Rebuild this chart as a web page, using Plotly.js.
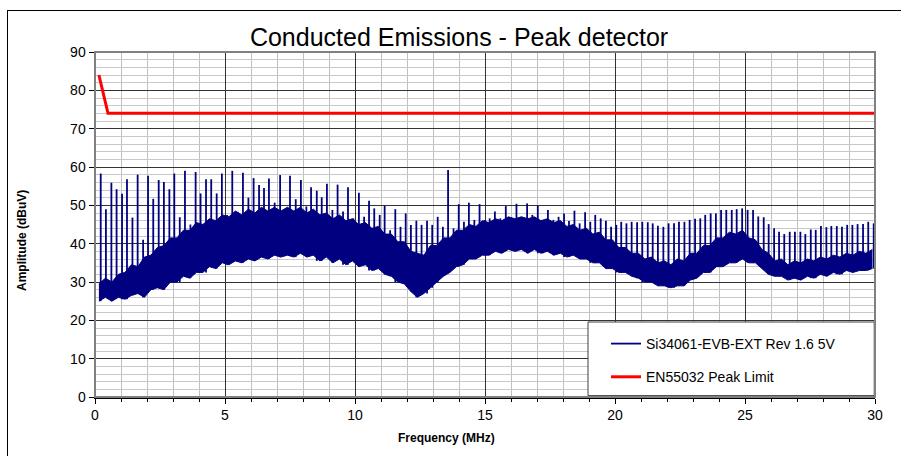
<!DOCTYPE html>
<html>
<head>
<meta charset="utf-8">
<script src="https://cdn.plot.ly/plotly-3.0.1.min.js"></script>
<style>
  html, body { margin: 0; padding: 0; background: #fff; }
  #wrap { position: relative; width: 901px; height: 456px; overflow: hidden; }
  #chart { position: absolute; left: 0; top: 0; width: 901px; height: 456px; }
  #frame { position: absolute; left: 7px; top: 10px; width: 900px; height: 460px;
           border-left: 1px solid #000; border-top: 1px solid #000; pointer-events: none; }
</style>
</head>
<body>
<div id="wrap"><div id="chart"></div><div id="frame"></div></div>
<script>
// ---- Data ----
// Limit line (EN55032 peak limit)
const limitFreq = [0.15, 0.5, 30];
const limitAmp  = [84, 74, 74];

// Dense noise band of the measured spectrum: frequency, bottom and top of band
const bandFreq = [
  0.15,0.4,0.65,0.9,1.15,1.4,1.65,1.9,2.15,2.4,
  2.65,2.9,3.15,3.4,3.65,3.9,4.15,4.4,4.65,4.9,
  5.15,5.4,5.65,5.9,6.15,6.4,6.65,6.9,7.15,7.4,
  7.65,7.9,8.15,8.4,8.65,8.9,9.15,9.4,9.65,9.9,
  10.15,10.4,10.65,10.9,11.15,11.4,11.65,11.9,12.15,12.4,
  12.65,12.9,13.15,13.4,13.65,13.9,14.15,14.4,14.65,14.9,
  15.15,15.4,15.65,15.9,16.15,16.4,16.65,16.9,17.15,17.4,
  17.65,17.9,18.15,18.4,18.65,18.9,19.15,19.4,19.65,19.9,
  20.15,20.4,20.65,20.9,21.15,21.4,21.65,21.9,22.15,22.4,
  22.65,22.9,23.15,23.4,23.65,23.9,24.15,24.4,24.65,24.9,
  25.15,25.4,25.65,25.9,26.15,26.4,26.65,26.9,27.15,27.4,
  27.65,27.9,28.15,28.4,28.65,28.9,29.15,29.4,29.65,29.9
];
const bandHigh = [
  29.5,31,30,32,32.5,34.5,34,36.5,37,39,
  39.5,41.5,41.5,43.5,43.5,45.5,45,46.5,46,47.5,
  47,48.5,47.5,49,48,49.5,48.5,49.5,48.5,49.5,
  48.5,49.5,48,49,47.5,48,46.5,47.5,46,46.5,
  45,45.5,44,44.5,42.5,42.5,40.5,40.5,38,37.5,
  37,39.5,39.5,41.5,41.5,43.5,43.5,45,44.5,46,
  45.5,46.5,46,47,46.5,47,46.5,47,46,46.5,
  45.5,46,44.5,45,43.5,44,42.5,43,41,41,
  39,39,37.5,37.5,36,36.5,35,35.5,34.5,36,
  35.5,37.5,37.5,39.5,39.5,41.5,41.5,43,42.5,43.5,
  41.5,41,38.5,37.5,35.5,36,34.5,35.5,35,36,
  35.5,36.5,36,37,36.5,37.5,37,38,37.5,38.5
];
const bandLow = [
  25,26,25,26,25.5,26.5,27,26,28,28.5,
  28,30,30,31.5,31,32.5,32.5,34,33.5,35,
  34.5,35.5,35,36,35.5,36.5,36,37,36.5,37,
  36.5,37.5,36.5,37,35.5,36.5,35,36,34.5,35.5,
  34,34.5,33,33.5,32,31.5,30,29.5,27.5,26,
  27,28.5,30,31.5,32.5,34,34.5,36,36,37,
  37,38,37.5,38.5,38,38.5,37.5,38.5,37.5,38,
  37,37.5,36.5,37,36,36,35,35,33.5,33.5,
  32.5,32.5,31.5,31,30,30,29,29,28.5,29,
  29,30.5,31,32.5,32.5,34,34,35,35,36,
  35,35,33.5,32,31.5,31.5,30.5,31,30.5,31.5,
  31,32,31.5,32.5,32,33,32.5,33,33,33.5
];

// Harmonic peaks (spikes) of the measured spectrum
const spikeFreq = [
  0.22,0.42,0.63,0.83,1.04,1.23,1.44,1.64,1.85,2.04,2.24,2.45,2.65,2.86,3.05,3.26,3.46,3.67,3.87,4.06,4.27,4.47,4.68,4.88,
  5.08,5.28,5.49,5.69,5.90,6.10,6.31,6.50,6.69,6.91,7.12,7.31,7.50,7.72,7.92,8.13,8.31,8.53,8.72,8.92,9.13,9.33,9.54,9.73,9.94,
  10.15,10.35,10.54,10.74,10.95,11.14,11.35,11.55,11.75,11.95,12.15,12.36,12.56,12.77,12.97,13.18,13.38,13.58,13.79,13.99,14.19,14.38,14.59,14.79,15.00,
  15.18,15.38,15.59,15.80,16.00,16.21,16.41,16.62,16.82,17.03,17.23,17.42,17.63,17.83,18.04,18.23,18.44,18.64,18.85,19.05,19.24,19.45,19.65,19.85,
  20.05,20.24,20.44,20.64,20.85,21.05,21.26,21.45,21.65,21.86,22.06,22.27,22.46,22.67,22.87,23.08,23.28,23.47,23.68,23.88,24.08,24.28,24.49,24.68,24.89,
  25.10,25.31,25.51,25.72,25.91,26.12,26.31,26.51,26.72,26.92,27.13,27.32,27.53,27.72,27.92,28.13,28.32,28.53,28.73,28.93,29.13,29.33,29.54,29.74,29.95
];
const spikeAmp = [
  58.3,49.0,55.9,54.2,53.0,56.8,46.8,58.0,41.0,57.7,51.7,56.6,56.1,54.2,58.3,46.9,59.0,45.0,58.7,53.1,56.8,56.8,53.1,58.3,
  47.5,59.0,48.3,58.5,52.0,57.1,55.3,54.5,57.0,50.7,57.9,48.8,57.7,51.6,56.6,49.7,54.7,53.8,52.1,55.6,48.8,55.4,48.4,54.7,46.6,
  53.3,47.0,51.2,49.2,47.5,49.9,43.5,49.0,44.4,47.9,44.9,46.0,44.9,46.0,44.9,47.0,44.4,59.2,44.0,50.3,45.7,50.7,46.2,50.3,46.2,
  46.6,48.4,46.6,49.8,46.6,50.4,47.0,50.5,47.5,49.9,45.7,48.8,46.2,47.0,47.9,45.9,48.6,45.3,48.2,45.7,47.5,46.6,46.0,44.4,
  44.9,45.7,45.3,45.7,45.6,45.7,45.6,45.3,44.7,44.4,45.3,45.3,45.7,45.7,46.2,46.5,46.6,47.5,47.9,47.9,48.8,48.8,48.8,49.0,49.2,
  48.8,48.8,47.1,46.9,45.1,44.0,43.1,42.5,43.1,43.1,43.1,42.5,43.7,43.6,44.6,44.3,44.6,44.6,44.4,44.9,44.9,45.1,45.1,45.7,45.3
];

// Axis tick values
const xTicks = [0, 5, 10, 15, 20, 25, 30];
const yTicks = [0, 10, 20, 30, 40, 50, 60, 70, 80, 90];

const seriesName = 'Si34061-EVB-EXT Rev 1.6 5V';
const limitName = 'EN55032 Peak Limit';
const NAVY = '#000080';

// build spike segments: each from the band bottom (nearest band sample) up to its peak
const sx = [], sy = [];
for (let i = 0; i < spikeFreq.length; i++) {
  let best = 0, bd = Infinity;
  for (let j = 0; j < bandFreq.length; j++) {
    const d = Math.abs(bandFreq[j] - spikeFreq[i]);
    if (d < bd) { bd = d; best = j; }
  }
  sx.push(spikeFreq[i], spikeFreq[i], null);
  sy.push(bandLow[best], spikeAmp[i], null);
}

const FONT = 'Arial, "Liberation Sans", sans-serif';

const traces = [
  { x: bandFreq, y: bandLow, type: 'scatter', mode: 'lines',
    line: { color: NAVY, width: 1 }, showlegend: false, hoverinfo: 'skip' },
  { x: bandFreq, y: bandHigh, type: 'scatter', mode: 'lines', fill: 'tonexty',
    fillcolor: NAVY, line: { color: NAVY, width: 1 }, showlegend: false, hoverinfo: 'skip' },
  { x: sx, y: sy, type: 'scatter', mode: 'lines', name: seriesName, legendgroup: 'a',
    line: { color: NAVY, width: 1.8 }, connectgaps: false },
  { x: limitFreq, y: limitAmp, type: 'scatter', mode: 'lines', name: limitName, legendgroup: 'b',
    line: { color: '#ff0000', width: 3 } }
];

const layout = {
  width: 901, height: 456,
  margin: { l: 95, r: 26, t: 52, b: 59, pad: 0 },
  paper_bgcolor: 'rgba(0,0,0,0)', plot_bgcolor: '#ffffff',
  font: { family: FONT, color: '#000', size: 14 },
  title: { text: 'Conducted Emissions - Peak detector', font: { family: FONT, size: 25, color: '#000' },
           xref: 'paper', x: 0.4667, xanchor: 'center', yref: 'container', y: 1 - 37/456, yanchor: 'middle' },
  xaxis: {
    range: [0, 30], tickvals: xTicks, ticktext: xTicks.map(String),
    showgrid: true, gridcolor: '#333333', gridwidth: 1,
    showline: true, linecolor: '#000', linewidth: 1.5,
    ticks: 'outside', ticklen: 5, tickcolor: '#000',
    tickfont: { family: FONT, size: 14, color: '#000' },
    minor: { dtick: 1, showgrid: true, gridcolor: '#c0c0c0', gridwidth: 1, ticks: 'outside', ticklen: 3, tickcolor: '#000' },
    zeroline: false, fixedrange: true
  },
  yaxis: {
    range: [0, 90], tickvals: yTicks, ticktext: yTicks.map(String),
    showgrid: true, gridcolor: '#333333', gridwidth: 1,
    showline: true, linecolor: '#000', linewidth: 1.5,
    ticks: 'outside', ticklen: 5, tickcolor: '#000',
    tickfont: { family: FONT, size: 14, color: '#000' },
    minor: { dtick: 2, showgrid: true, gridcolor: '#c8c8c8', gridwidth: 1 },
    zeroline: false, fixedrange: true
  },
  showlegend: true,
  legend: {
    x: (606 - 95) / 780, xanchor: 'left', y: (397 - 328) / 345, yanchor: 'top',
    bgcolor: 'rgba(0,0,0,0)', borderwidth: 0,
    font: { family: FONT, size: 14, color: '#000' },
    traceorder: 'grouped', tracegroupgap: 12, itemwidth: 30
  },
  shapes: [
    { type: 'rect', xref: 'paper', yref: 'paper', x0: (588 - 95) / 780, x1: 0.999, y0: 0.004, y1: (397 - 322) / 345,
      fillcolor: '#ffffff', line: { color: '#404040', width: 1 }, layer: 'above' },
    { type: 'rect', xref: 'paper', yref: 'paper', x0: 0, x1: 1, y0: 0, y1: 1,
      fillcolor: 'rgba(0,0,0,0)', line: { color: '#808080', width: 2 }, layer: 'above' }
  ],
  annotations: [
    { text: '<b>Frequency (MHz)</b>', xref: 'paper', yref: 'paper', x: (446 - 95) / 780, y: -(438 - 397) / 345,
      xanchor: 'center', yanchor: 'middle', showarrow: false, font: { family: FONT, size: 12, color: '#000' } },
    { text: '<b>Amplitude (dBuV)</b>', xref: 'paper', yref: 'paper', x: -(95 - 22) / 780, y: (397 - 241) / 345,
      xanchor: 'center', yanchor: 'middle', textangle: -90, showarrow: false, font: { family: FONT, size: 12, color: '#000' } }
  ]
};

Plotly.newPlot('chart', traces, layout, { staticPlot: true, displayModeBar: false });
</script>
</body>
</html>
